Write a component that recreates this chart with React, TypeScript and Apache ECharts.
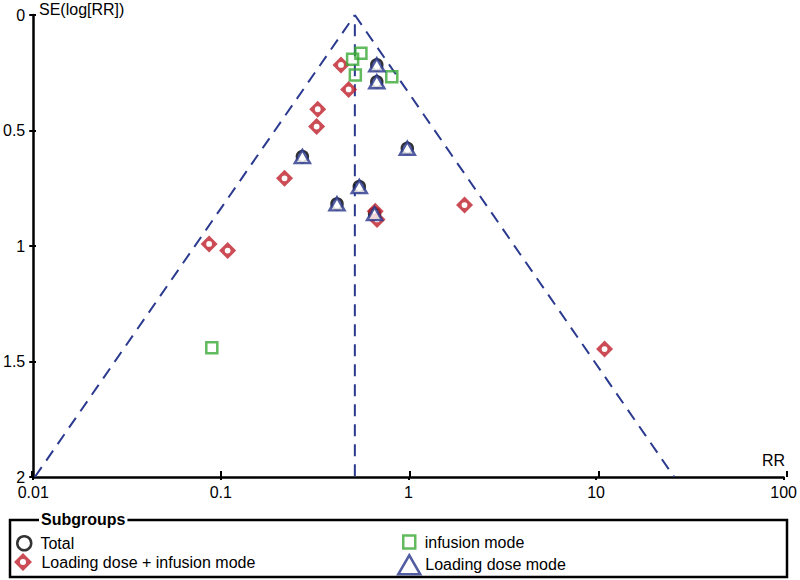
import React, { useEffect, useRef } from "react";
import * as echarts from "echarts";

// ---- Data ----
const xTickValues = [0.01, 0.1, 1, 10, 100];
const xTickLabels = ["0.01", "0.1", "1", "10", "100"];
const yTickLabels = ["0", "0.5", "1", "1.5", "2"];

// [RR, SE(log RR)]
const totalPoints = [
  [0.678, 0.216],
  [0.678, 0.289],
  [0.272, 0.613],
  [0.986, 0.577],
  [0.547, 0.743],
  [0.416, 0.818],
  [0.66, 0.86],
];
const loadingDoseModePoints = [
  [0.678, 0.216],
  [0.678, 0.289],
  [0.272, 0.613],
  [0.986, 0.577],
  [0.547, 0.743],
  [0.416, 0.818],
  [0.66, 0.86],
];
const loadingInfusionPoints = [
  [0.437, 0.216],
  [0.48, 0.322],
  [0.3285, 0.408],
  [0.324, 0.483],
  [0.2185, 0.707],
  [0.0866, 0.991],
  [0.1087, 1.02],
  [0.665, 0.85],
  [0.68, 0.885],
  [1.99, 0.823],
  [11.1, 1.446],
];
const infusionPoints = [
  [0.558, 0.166],
  [0.504, 0.192],
  [0.521, 0.26],
  [0.815, 0.267],
  [0.0895, 1.44],
];
const funnelLeft = [
  [0.0102, 2],
  [0.518, 0],
];
const funnelRight = [
  [0.518, 0],
  [26.1, 2],
];
const funnelMid = [
  [0.518, 0.04],
  [0.518, 2],
];

const FONT = "'Liberation Sans', Arial, Helvetica, sans-serif";
const RED = "#bf1f2a";
const GREEN = "#39a935";
const BLUE = "#27348b";
const DASH = "#2b3a8f";

const diamondHole =
  "path://M0,-10L10,0L0,10L-10,0ZM0,-3.4A3.4,3.4,0,1,0,0,3.4A3.4,3.4,0,1,0,0,-3.4Z";

export default function App() {
  const ref = useRef<HTMLDivElement>(null);

  useEffect(() => {
    if (!ref.current) return;
    const chart = echarts.init(ref.current, undefined, { renderer: "svg" });

    const dashLine = (name: string, data: number[][]) => ({
      name,
      type: "line",
      data,
      symbol: "none",
      silent: true,
      z: 1,
      lineStyle: { color: DASH, width: 2, type: [12, 8] },
    });

    const totalStyle = { color: "rgba(0,0,0,0)", borderColor: "#000", borderWidth: 2.5 };
    const triStyle = { color: "#fff", borderColor: BLUE, borderWidth: 2.5 };
    const sqStyle = { color: "rgba(0,0,0,0)", borderColor: GREEN, borderWidth: 2.5 };
    const redStyle = { color: RED };

    const legendBase = {
      orient: "horizontal",
      selectedMode: false,
      padding: 0,
      textStyle: { fontFamily: FONT, fontSize: 16, color: "#000" },
    };

    const gridBox = { left: 32, right: 13, top: 15, bottom: 103 };

    const option = {
      animation: false,
      backgroundColor: "#fff",
      grid: [gridBox, { ...gridBox }],
      xAxis: [
        {
          type: "log",
          gridIndex: 0,
          logBase: 10,
          min: 0.01,
          max: 100,
          position: "bottom",
          axisLine: { onZero: false, lineStyle: { color: "#000", width: 2.5 } },
          axisTick: { length: 3, lineStyle: { color: "#000", width: 2 } },
          axisLabel: {
            color: "#000",
            fontFamily: FONT,
            fontSize: 16,
            margin: 7,
            formatter: (v: number) => {
              const i = xTickValues.findIndex((t) => Math.abs(Math.log10(t) - Math.log10(v)) < 1e-6);
              return i >= 0 ? xTickLabels[i] : "";
            },
          },
          splitLine: { show: false },
        },
        {
          type: "log",
          gridIndex: 1,
          logBase: 10,
          min: 0.01,
          max: 100,
          position: "bottom",
          axisLine: { show: false, onZero: false },
          axisTick: { inside: true, length: 6, lineStyle: { color: "#000", width: 2 } },
          axisLabel: { show: false },
          splitLine: { show: false },
        },
      ],
      yAxis: [
        {
          type: "value",
          gridIndex: 0,
          inverse: true,
          min: 0,
          max: 2,
          interval: 0.5,
          position: "left",
          axisLine: { show: true, onZero: false, lineStyle: { color: "#000", width: 2.5 } },
          axisTick: { show: true, length: 4, lineStyle: { color: "#000", width: 2 } },
          axisLabel: {
            color: "#000",
            fontFamily: FONT,
            fontSize: 16,
            margin: 8,
            formatter: (v: number) => yTickLabels[Math.round(v / 0.5)] ?? "",
          },
          splitLine: { show: false },
        },
        {
          type: "value",
          gridIndex: 1,
          inverse: true,
          min: 0,
          max: 2,
          interval: 0.5,
          position: "left",
          axisLine: { show: false, onZero: false },
          axisTick: { show: true, inside: true, length: 4, lineStyle: { color: "#000", width: 2 } },
          axisLabel: { show: false },
          splitLine: { show: false },
        },
      ],
      legend: [
        {
          ...legendBase,
          left: 16,
          top: 535,
          itemWidth: 14,
          itemHeight: 14,
          formatter: (n: string) => " " + n,
          data: [{ name: "Total", icon: "circle", itemStyle: totalStyle }],
        },
        {
          ...legendBase,
          left: 14,
          top: 553,
          itemWidth: 18,
          itemHeight: 22,
          formatter: (n: string) => " " + n,
          data: [{ name: "Loading dose + infusion mode", icon: diamondHole, itemStyle: redStyle }],
        },
        {
          ...legendBase,
          left: 402,
          top: 534,
          itemWidth: 12,
          itemHeight: 13,
          formatter: (n: string) => " " + n,
          data: [{ name: "infusion mode", icon: "rect", itemStyle: sqStyle }],
        },
        {
          ...legendBase,
          left: 397,
          top: 554,
          itemWidth: 22,
          itemHeight: 19,
          formatter: (n: string) => n,
          data: [{ name: "Loading dose mode", icon: "triangle", itemStyle: triStyle }],
        },
      ],
      graphic: [
        {
          type: "text",
          left: 39,
          top: 1,
          style: { text: "SE(log[RR])", fontFamily: FONT, fontSize: 16, fill: "#000" },
        },
        {
          type: "text",
          right: 15,
          top: 452,
          style: { text: "RR", fontFamily: FONT, fontSize: 16, fill: "#000" },
        },
        {
          type: "rect",
          shape: { x: 10, y: 520, width: 777, height: 57 },
          style: { fill: "none", stroke: "#000", lineWidth: 2.5 },
          z: 10,
        },
        {
          type: "text",
          left: 39,
          top: 511,
          z: 11,
          style: {
            text: "Subgroups",
            fontFamily: FONT,
            fontSize: 16,
            fontWeight: "bold",
            fill: "#000",
            backgroundColor: "#fff",
            padding: [0, 2],
          },
        },
      ],
      series: [
        dashLine("funnelLeft", funnelLeft),
        dashLine("funnelRight", funnelRight),
        dashLine("funnelMid", funnelMid),
        {
          name: "Total",
          type: "scatter",
          data: totalPoints,
          symbol: "circle",
          symbolSize: 11,
          itemStyle: totalStyle,
          z: 2,
        },
        {
          name: "Loading dose + infusion mode",
          type: "scatter",
          data: loadingInfusionPoints,
          symbol: diamondHole,
          symbolSize: 17,
          itemStyle: redStyle,
          z: 3,
        },
        {
          name: "infusion mode",
          type: "scatter",
          data: infusionPoints,
          symbol: "rect",
          symbolSize: 11,
          itemStyle: sqStyle,
          z: 4,
        },
        {
          name: "Loading dose mode",
          type: "scatter",
          data: loadingDoseModePoints,
          symbol: "triangle",
          symbolSize: [15, 13],
          itemStyle: triStyle,
          z: 5,
        },
      ],
    };

    chart.setOption(option as any);
    return () => chart.dispose();
  }, []);

  return (
    <div
      ref={ref}
      style={{ position: "fixed", left: 0, top: 0, width: 800, height: 580 }}
    />
  );
}
